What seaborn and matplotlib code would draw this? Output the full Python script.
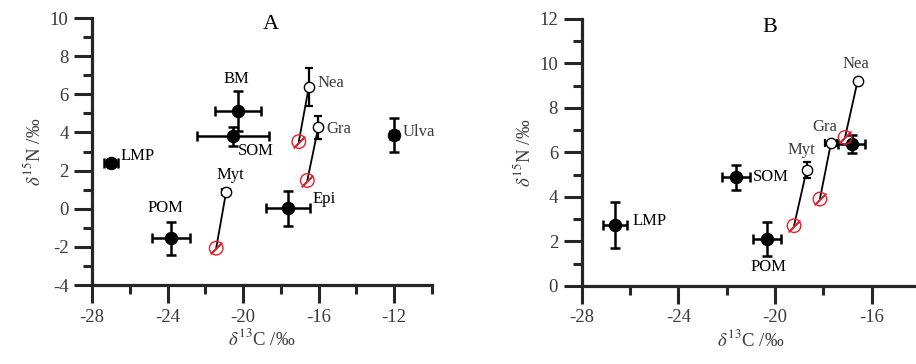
import matplotlib
matplotlib.use("Agg")
import pandas as pd
import matplotlib.pyplot as plt
import seaborn as sns
from matplotlib.ticker import MultipleLocator

# ---- panel A ----
a_src_names = ["LMP", "POM", "BM", "SOM", "Epi", "Ulva"]
a_src_x = [-27.0, -23.84, -20.27, -20.54, -17.63, -12.0]
a_src_y = [2.39, -1.55, 5.1, 3.79, 0.02, 3.87]
a_src_xerr = [0.37, 1.0, 1.2, 1.9, 1.15, 0.2]
a_src_yerr = [0.12, 0.87, 1.05, 0.5, 0.93, 0.88]

a_con_names = ["Myt", "Nea", "Gra"]
a_con_x = [-20.9, -16.52, -16.02]
a_con_y = [0.9, 6.38, 4.26]
a_con_xerr = [0.2, 0.05, 0.05]
a_con_yerr = [0.15, 1.0, 0.58]
a_cor_x = [-21.43, -17.05, -16.6]
a_cor_y = [-2.07, 3.52, 1.48]

# ---- panel B ----
b_src_names = ["LMP", "POM", "SOM", ""]
b_src_x = [-26.62, -20.34, -21.61, -16.83]
b_src_y = [2.73, 2.1, 4.87, 6.37]
b_src_xerr = [0.48, 0.58, 0.57, 0.57]
b_src_yerr = [1.05, 0.75, 0.55, 0.4]

b_con_names = ["Myt", "Gra", "Nea"]
b_con_x = [-18.69, -17.68, -16.58]
b_con_y = [5.2, 6.43, 9.21]
b_con_xerr = [0.1, 0.25, 0.05]
b_con_yerr = [0.36, 0.1, 0.1]
b_cor_x = [-19.21, -18.14, -17.1]
b_cor_y = [2.7, 3.9, 6.67]

sns.set_style("ticks")
plt.rcParams["font.family"] = ["Liberation Serif", "DejaVu Serif"]
plt.rcParams["mathtext.fontset"] = "stix"
plt.rcParams["axes.unicode_minus"] = False

GREY = "#3a3a3a"


def draw_panel(ax, src, con, cor):
    ax.errorbar(src["x"], src["y"], xerr=src["xerr"], yerr=src["yerr"], fmt="none",
                ecolor="black", elinewidth=1.8, capsize=3.5, capthick=1.8, zorder=2)
    ax.errorbar(con["x"], con["y"], xerr=con["xerr"], yerr=con["yerr"], fmt="none",
                ecolor="black", elinewidth=1.6, capsize=3, capthick=1.6, zorder=2)
    for i in range(len(con)):
        ax.plot([con["x"][i], cor["x"][i]], [con["y"][i], cor["y"][i]],
                color="black", lw=1.3, zorder=1)
    sns.scatterplot(data=src, x="x", y="y", color="black", edgecolor="black",
                    s=80, ax=ax, zorder=3, legend=False)
    sns.scatterplot(data=con, x="x", y="y", color="white", edgecolor="black",
                    linewidth=1.0, s=55, ax=ax, zorder=3, legend=False)
    sns.scatterplot(data=cor, x="x", y="y", color="red", facecolor="none",
                    edgecolor="#e8202a", linewidth=1.0, s=95, ax=ax, zorder=4, legend=False)
    sns.scatterplot(data=cor, x="x", y="y", marker=(2, 2, -45), color="#e8202a",
                    edgecolor="#e8202a", linewidth=1.0, s=120, ax=ax, zorder=4, legend=False)

    ax.spines[["top", "right"]].set_visible(False)
    for sp in ["left", "bottom"]:
        ax.spines[sp].set_linewidth(2.3)
    ax.xaxis.set_major_locator(MultipleLocator(4))
    ax.xaxis.set_minor_locator(MultipleLocator(2))
    ax.yaxis.set_major_locator(MultipleLocator(2))
    ax.yaxis.set_minor_locator(MultipleLocator(1))
    ax.tick_params(which="major", length=13, width=2.2, labelsize=13.5,
                   labelcolor=GREY, pad=4)
    ax.tick_params(which="minor", length=6.5, width=2.2)
    ax.set_xlabel(r"$\delta^{13}$C /‰", fontsize=13.5, color=GREY, labelpad=2)
    ax.set_ylabel(r"$\delta^{15}$N /‰", fontsize=13.5, color=GREY, labelpad=4)


fig = plt.figure(figsize=(9.16, 3.64), dpi=100)
ax_a = fig.add_axes([0.1007, 0.217, 0.3707, 0.7335])
ax_b = fig.add_axes([0.635, 0.215, 0.3693, 0.733])

src_a = pd.DataFrame({"x": a_src_x, "y": a_src_y, "xerr": a_src_xerr, "yerr": a_src_yerr})
con_a = pd.DataFrame({"x": a_con_x, "y": a_con_y, "xerr": a_con_xerr, "yerr": a_con_yerr})
cor_a = pd.DataFrame({"x": a_cor_x, "y": a_cor_y})
draw_panel(ax_a, src_a, con_a, cor_a)
ax_a.set_xlim(-28, -10)
ax_a.set_ylim(-4, 10)
ax_a.set_xticks([-28, -24, -20, -16, -12])

src_b = pd.DataFrame({"x": b_src_x, "y": b_src_y, "xerr": b_src_xerr, "yerr": b_src_yerr})
con_b = pd.DataFrame({"x": b_con_x, "y": b_con_y, "xerr": b_con_xerr, "yerr": b_con_yerr})
cor_b = pd.DataFrame({"x": b_cor_x, "y": b_cor_y})
draw_panel(ax_b, src_b, con_b, cor_b)
ax_b.set_xlim(-28, -14)
ax_b.set_ylim(0, 12)
ax_b.set_xticks([-28, -24, -20, -16])

lab = dict(fontsize=12)
# panel A labels
ax_a.text(-20.38, 6.8, "BM", ha="center", va="center", color="black", **lab)
ax_a.text(-20.3, 3.03, "SOM", ha="left", va="center", color="black", **lab)
ax_a.text(-26.5, 2.74, "LMP", ha="left", va="center", color="black", **lab)
ax_a.text(-24.1, 0.02, "POM", ha="center", va="center", color="black", **lab)
ax_a.text(-20.7, 1.77, "Myt", ha="center", va="center", color="black", **lab)
ax_a.text(-16.3, 0.5, "Epi", ha="left", va="center", color="black", **lab)
ax_a.text(-16.05, 6.6, "Nea", ha="left", va="center", color=GREY, **lab)
ax_a.text(-15.6, 4.2, "Gra", ha="left", va="center", color=GREY, **lab)
ax_a.text(-11.55, 4.0, "Ulva", ha="left", va="center", color=GREY, **lab)
ax_a.text(-18.55, 9.65, "A", ha="center", va="center", fontsize=16, color="black")

# panel B labels
ax_b.text(-16.65, 9.98, "Nea", ha="center", va="center", color=GREY, **lab)
ax_b.text(-17.93, 7.15, "Gra", ha="center", va="center", color=GREY, **lab)
ax_b.text(-18.9, 6.1, "Myt", ha="center", va="center", color=GREY, **lab)
ax_b.text(-20.92, 4.9, "SOM", ha="left", va="center", color="black", **lab)
ax_b.text(-25.9, 2.92, "LMP", ha="left", va="center", color="black", **lab)
ax_b.text(-20.28, 0.85, "POM", ha="center", va="center", color="black", **lab)
ax_b.text(-20.2, 11.6, "B", ha="center", va="center", fontsize=16, color="black")

fig.savefig("out.png", dpi=100)
